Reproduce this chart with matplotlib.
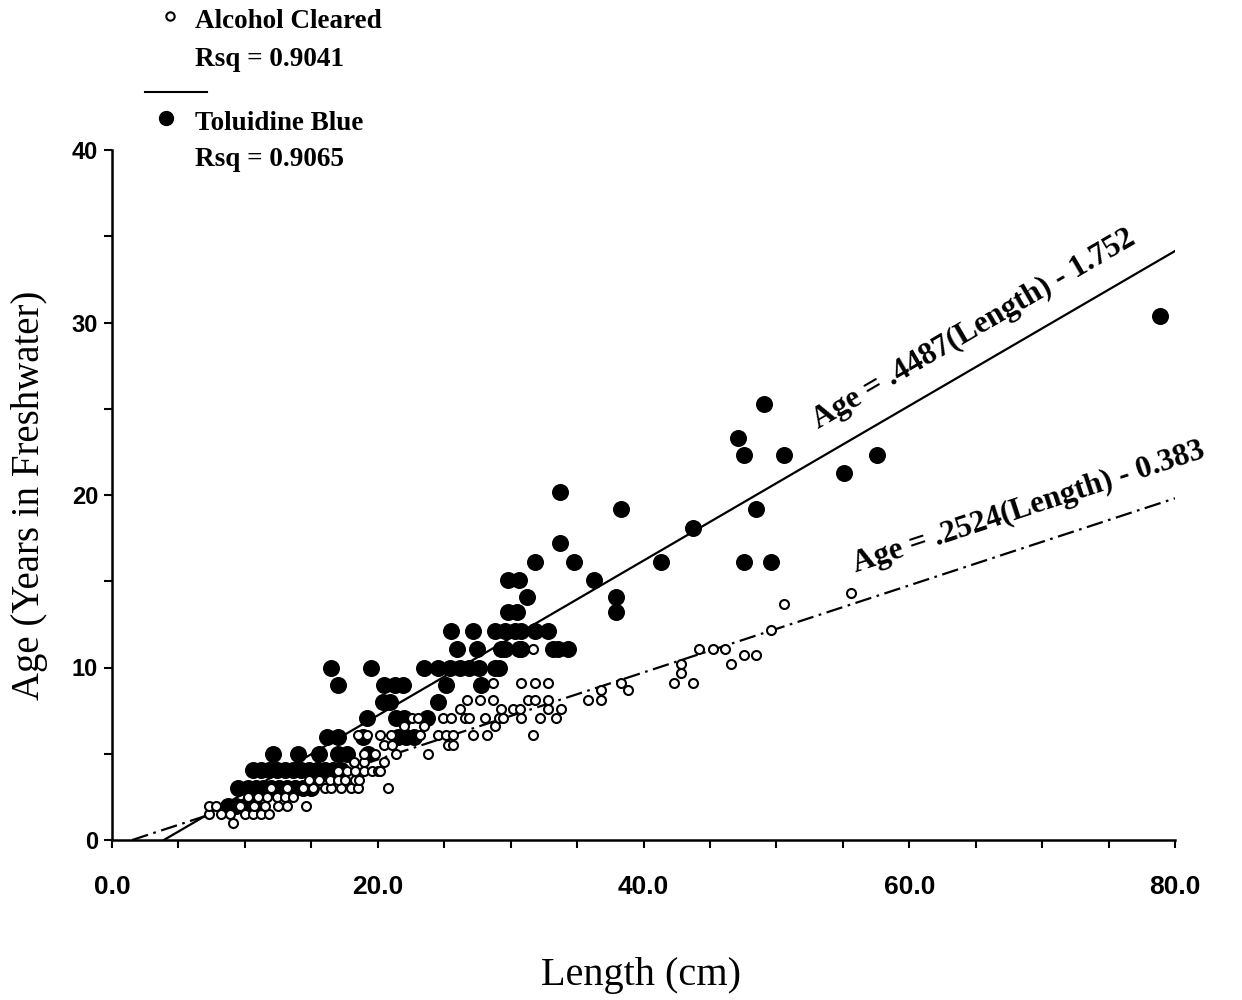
import numpy as np
import matplotlib
matplotlib.use('Agg')
from matplotlib import pyplot as plt

# Toluidine Blue: one list of lengths per age row
blue_len = [
    [8.7, 9.3, 10.0, 10.7],
    [9.5, 10.2, 10.8, 11.4, 12.0, 12.6, 13.2, 13.8, 14.4, 15.0],
    [10.6, 11.2, 11.8, 12.4, 13.0, 13.6, 14.2, 14.8, 15.4, 16.0, 16.6, 17.2],
    [12.1, 14.0, 15.6, 17.0, 17.7, 19.3],
    [16.2, 17.0, 18.9, 21.5, 22.1, 22.7],
    [19.2, 21.4, 22.0, 23.7],
    [20.4, 20.9, 24.5],
    [17.0, 20.5, 21.3, 21.9, 25.1, 27.8],
    [16.5, 19.5, 23.5, 24.5, 25.4, 26.2, 26.9, 27.6, 28.8, 29.1],
    [26.0, 27.5, 29.3, 29.6, 30.6, 30.8, 33.2, 33.6, 34.3],
    [25.5, 27.2, 28.8, 29.6, 30.3, 30.8, 31.8, 32.8],
    [29.8, 30.5, 37.9],
    [31.2, 37.9],
    [29.8, 30.6, 36.3],
    [31.8, 34.8, 41.3, 47.6, 49.6],
    [33.7],
    [43.7],
    [38.3, 48.5],
    [33.7],
    [55.1],
    [47.6, 50.6, 57.6],
    [47.1],
    [49.1],
    [78.9],
]
blue_age = [2.0, 3.0, 4.05, 5.0, 6.0, 7.1, 8.0, 9.0, 10.0, 11.1, 12.1, 13.2,
            14.1, 15.1, 16.1, 17.2, 18.1, 19.2, 20.2, 21.3, 22.3, 23.3, 25.3, 30.4]

# Alcohol Cleared: same layout
clear_len = [
    [9.1],
    [7.3, 8.2, 8.9, 10.0, 10.6, 11.2, 11.8],
    [7.3, 7.8, 9.6, 10.7, 11.5, 12.5, 13.2, 14.6],
    [10.2, 11.0, 11.7, 12.4, 13.0, 13.6],
    [12.0, 13.2, 14.4, 15.1, 16.0, 16.5, 17.2, 18.0, 18.5, 20.8],
    [14.8, 15.6, 16.4, 17.0, 17.5, 18.3, 18.6],
    [17.0, 17.7, 18.3, 19.0, 19.6, 20.0, 20.2],
    [18.2, 19.0, 20.5],
    [19.0, 19.8, 21.4, 23.8],
    [20.5, 21.1, 25.3, 25.7],
    [18.5, 19.2, 20.2, 21.0, 23.2, 24.5, 25.1, 25.7, 27.2, 28.2, 31.7],
    [22.0, 23.5, 28.8],
    [22.6, 23.0, 24.9, 25.5, 26.6, 26.9, 28.1, 29.1, 29.4, 30.8, 32.2, 33.4],
    [26.2, 29.3, 30.2, 30.7, 32.8, 33.8],
    [26.7, 27.7, 28.7, 31.3, 31.8, 32.8, 35.8, 36.8],
    [36.8, 38.8],
    [28.7, 30.8, 31.8, 32.8, 38.3, 42.3, 43.7],
    [42.8],
    [42.8, 46.6],
    [47.6, 48.5],
    [31.7, 44.2, 45.2, 46.1],
    [49.6],
    [50.6],
    [55.6],
]
clear_age = [1.0, 1.5, 2.0, 2.5, 3.0, 3.5, 4.0, 4.5, 5.0, 5.5, 6.1, 6.6, 7.1,
             7.6, 8.1, 8.7, 9.1, 9.7, 10.2, 10.7, 11.1, 12.2, 13.7, 14.3]

# fitted lines: slope, intercept, r squared
blue_fit = (0.4487, -1.752, 0.9065)
clear_fit = (0.2524, -0.383, 0.9041)


def flatten(lens, ages):
    x = [v for row in lens for v in row]
    y = [a for row, a in zip(lens, ages) for _ in row]
    return np.array(x), np.array(y)


bx, by = flatten(blue_len, blue_age)
cx, cy = flatten(clear_len, clear_age)

serif = 'Liberation Serif'
sans = 'Liberation Sans'

fig = plt.figure(figsize=(12.42, 10), dpi=100)
ax = fig.add_axes([112 / 1242, 0.16, 1063 / 1242, 0.69])

ax.scatter(bx, by, s=150, c='black', zorder=2, linewidths=0)

# regression lines, from the x intercept to the end of the axis
m, b, _ = blue_fit
xs = np.array([-b / m, 80])
ax.plot(xs, m * xs + b, color='black', lw=1.6, zorder=3)
m, b, _ = clear_fit
xs = np.array([-b / m, 80])
ax.plot(xs, m * xs + b, color='black', lw=1.6, zorder=3,
        dashes=(7.5, 2.5, 1.2, 2.5))

ax.scatter(cx, cy, s=42, facecolors='white', edgecolors='black',
           linewidths=1.5, zorder=4)

ax.set_xlim(0, 80)
ax.set_ylim(0, 40)
ax.spines['top'].set_visible(False)
ax.spines['right'].set_visible(False)
for s in ['left', 'bottom']:
    ax.spines[s].set_linewidth(1.8)

xt = np.arange(0, 81, 5)
ax.set_xticks(xt)
ax.set_xticklabels(['%.1f' % t if t % 20 == 0 else '' for t in xt],
                   fontsize=19, fontweight='bold', family=sans)
yt = np.arange(0, 41, 5)
ax.set_yticks(yt)
ax.set_yticklabels(['%d' % t if t % 10 == 0 else '' for t in yt],
                   fontsize=17, fontweight='bold', family=sans)
ax.tick_params(axis='x', length=6, width=1.5, pad=19)
ax.tick_params(axis='y', length=6, width=1.5, pad=4)

# axis titles placed in figure coordinates
fig.text(641 / 1242, 1 - 976 / 1000, 'Length (cm)', fontsize=29, family=serif,
         ha='center', va='center')
fig.text(30 / 1242, 1 - 495 / 1000, 'Age (Years in Freshwater)', fontsize=28,
         family=serif, rotation=90, ha='center', va='center')

ax.text(53.2, 23.8, 'Age = .4487(Length) - 1.752', fontsize=22.5,
        fontweight='bold', family=serif,
        rotation=30.3, rotation_mode='anchor', ha='left', va='baseline')
ax.text(56.0, 15.5, 'Age = .2524(Length) - 0.383', fontsize=22.5,
        fontweight='bold', family=serif,
        rotation=18.2, rotation_mode='anchor', ha='left', va='baseline')

# legend block drawn in figure pixels above the plot
lg = fig.add_axes([0, 0, 1, 1], zorder=5)
lg.set_xlim(0, 1242)
lg.set_ylim(1000, 0)
lg.axis('off')
lg.patch.set_alpha(0)
lg.plot([170], [16], marker='o', ms=6, mfc='white', mec='black', mew=1.5)
lg.plot([145, 207], [92, 92], color='black', lw=1.5)
lg.plot([166], [118], marker='o', ms=10, color='black')
lkw = dict(fontsize=19.5, fontweight='bold', family=serif, va='center', ha='left')
lg.text(195, 22, 'Alcohol Cleared', **lkw)
lg.text(195, 60, 'Rsq = %.4f' % clear_fit[2], **lkw)
lg.text(195, 124, 'Toluidine Blue', **lkw)
lg.text(195, 160, 'Rsq = %.4f' % blue_fit[2], **lkw)

fig.savefig('out.png', dpi=100)
